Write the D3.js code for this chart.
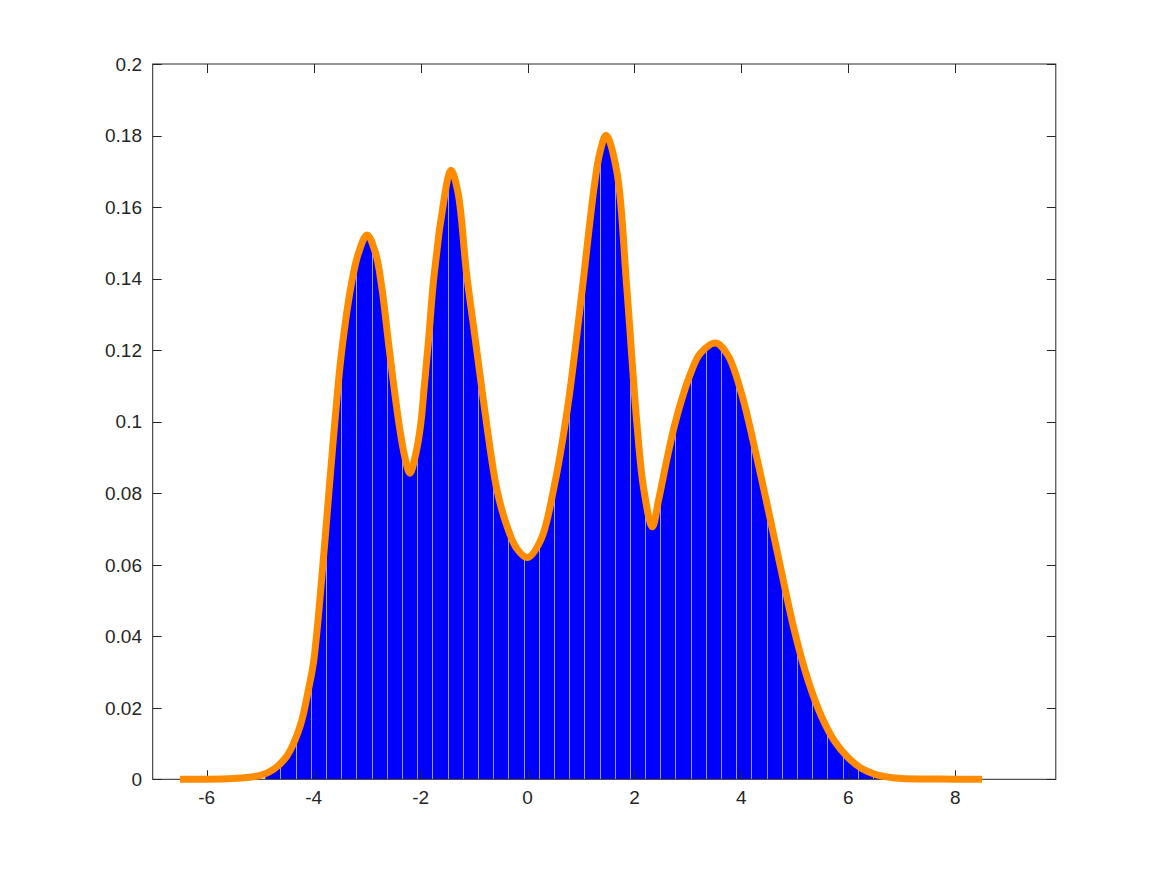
<!DOCTYPE html>
<html>
<head>
<meta charset="utf-8">
<script src="https://cdn.jsdelivr.net/npm/d3@7"></script>
<style>
  html, body { margin: 0; padding: 0; background: #fff; }
  svg { display: block; }
</style>
</head>
<body>
<svg width="1167" height="875"></svg>
<script>
// ** DATA ** //
// density curve (x, density)
const curveX = [
  -6.5, -6, -5.5, -5.25, -5, -4.75, -4.5, -4.25, -4.1, -4, -3.85, -3.7, -3.6,
  -3.5, -3.4, -3.3, -3.165, -3, -2.84, -2.727, -2.6, -2.5, -2.4, -2.3, -2.2,
  -2.09, -2, -1.93, -1.85, -1.77, -1.7, -1.62, -1.43, -1.3, -1.14, -1, -0.83,
  -0.58, -0.4, -0.2, 0, 0.25, 0.5, 0.75, 1, 1.25, 1.35, 1.47, 1.67, 1.855,
  2.04, 2.17, 2.334, 2.45, 2.6, 2.75, 2.91, 3.05, 3.226, 3.52, 3.75, 4, 4.25,
  4.5, 4.75, 5, 5.25, 5.5, 5.75, 6, 6.25, 6.5, 6.75, 7, 7.5, 8, 8.5
];
const curveY = [
  0, 0, 0.0002, 0.0005, 0.0011, 0.0028, 0.0065, 0.015, 0.0249, 0.033, 0.056, 0.083, 0.1005,
  0.1165, 0.1285, 0.138, 0.147, 0.1522, 0.147, 0.1377, 0.122, 0.11, 0.099, 0.0905, 0.0856,
  0.091, 0.099, 0.11, 0.123, 0.1377, 0.147, 0.1564, 0.1703, 0.164, 0.1414, 0.1256, 0.1065,
  0.0815, 0.0715, 0.0645, 0.062, 0.067, 0.082, 0.104, 0.134, 0.166, 0.175, 0.1801, 0.17, 0.1377,
  0.1005, 0.0815, 0.0706, 0.078, 0.089, 0.099, 0.1075, 0.1135, 0.119, 0.122, 0.1185, 0.108, 0.0925,
  0.0755, 0.058, 0.041, 0.0275, 0.0175, 0.0105, 0.006, 0.003, 0.0014, 0.0006, 0.0002, 0.0001, 0, 0
];
// histogram extent and bin width
const histRange = [-4.904, 6.74];
const binWidth = 0.2841;

const xTicks = [-6, -4, -2, 0, 2, 4, 6, 8];
const yTicks = [0, 0.02, 0.04, 0.06, 0.08, 0.1, 0.12, 0.14, 0.16, 0.18, 0.2];

const onReady = () => {
  const svg = d3.select("svg");
  const ink = "#262626";
  const tickLen = 9;
  const font = "'Liberation Sans', Arial, Helvetica, sans-serif";

  const x = d3.scaleLinear().domain([-7.01, 9.88]).range([152.7, 1055.8]);
  const y = d3.scaleLinear().domain([0, 0.2]).range([779.3, 64]);

  const points = curveX.map((d, i) => ({ x: d, y: curveY[i] }));
  const histPoints = points.filter(d => d.x >= histRange[0] - 0.3 && d.x <= histRange[1] + 0.3);
  const smooth = d3.curveCatmullRom.alpha(0.5);

  // ** HISTOGRAM FILL ** //
  const area = d3
    .area()
    .x(d => x(d.x))
    .y0(y(0))
    .y1(d => Math.min(y(0), y(d.y)))
    .curve(smooth);

  svg
    .append("clipPath")
    .attr("id", "hist-clip")
    .append("rect")
    .attr("x", x(histRange[0]))
    .attr("y", y(0.2))
    .attr("width", x(histRange[1]) - x(histRange[0]))
    .attr("height", y(0) - y(0.2));

  svg
    .append("clipPath")
    .attr("id", "area-clip")
    .append("path")
    .attr("d", area(histPoints));

  const hist = svg.append("g").attr("clip-path", "url(#hist-clip)");
  hist
    .append("path")
    .attr("d", area(histPoints))
    .attr("fill", "#0000ff");

  // bin edges
  const edges = d3.range(histRange[0] + binWidth, histRange[1], binWidth);
  hist
    .append("g")
    .attr("clip-path", "url(#area-clip)")
    .selectAll("line")
    .data(edges)
    .enter()
    .append("line")
    .attr("x1", d => Math.round(x(d)) + 0.5)
    .attr("x2", d => Math.round(x(d)) + 0.5)
    .attr("y1", y(0))
    .attr("y2", y(0.2))
    .attr("stroke", "#9a9aff")
    .attr("stroke-width", 1);

  // ** AXES ** //
  const axes = svg.append("g").attr("stroke", ink).attr("fill", "none");
  axes
    .append("rect")
    .attr("x", x.range()[0])
    .attr("y", y.range()[1])
    .attr("width", x.range()[1] - x.range()[0])
    .attr("height", y.range()[0] - y.range()[1])
    .attr("stroke-width", 1);

  axes
    .selectAll("path.xt")
    .data(xTicks)
    .enter()
    .append("path")
    .attr("class", "xt")
    .attr("d", d => {
      const px = Math.round(x(d)) + 0.5;
      return `M${px},${y(0)}v${-tickLen}M${px},${y(0.2)}v${tickLen}`;
    });

  axes
    .selectAll("path.yt")
    .data(yTicks)
    .enter()
    .append("path")
    .attr("class", "yt")
    .attr("d", d => {
      const py = Math.round(y(d)) + 0.5;
      return `M${x.range()[0]},${py}h${tickLen}M${x.range()[1]},${py}h${-tickLen}`;
    });

  svg
    .append("g")
    .selectAll("text")
    .data(xTicks)
    .enter()
    .append("text")
    .attr("font-family", font)
    .attr("font-size", 19)
    .attr("fill", ink)
    .attr("x", d => x(d))
    .attr("y", 804)
    .attr("text-anchor", "middle")
    .text(d => String(d));

  svg
    .append("g")
    .selectAll("text")
    .data(yTicks)
    .enter()
    .append("text")
    .attr("font-family", font)
    .attr("font-size", 19)
    .attr("fill", ink)
    .attr("x", 142)
    .attr("y", d => y(d))
    .attr("dy", "0.36em")
    .attr("text-anchor", "end")
    .text(d => String(+d.toFixed(2)));

  // ** DENSITY CURVE ** //
  const line = d3
    .line()
    .x(d => x(d.x))
    .y(d => Math.min(y(0), y(d.y)))
    .curve(smooth);

  svg
    .append("path")
    .attr("d", line(points))
    .attr("fill", "none")
    .attr("stroke", "#ff8c00")
    .attr("stroke-width", 7)
    .attr("stroke-linejoin", "round");
};
document.addEventListener("DOMContentLoaded", onReady);
</script>
</body>
</html>
